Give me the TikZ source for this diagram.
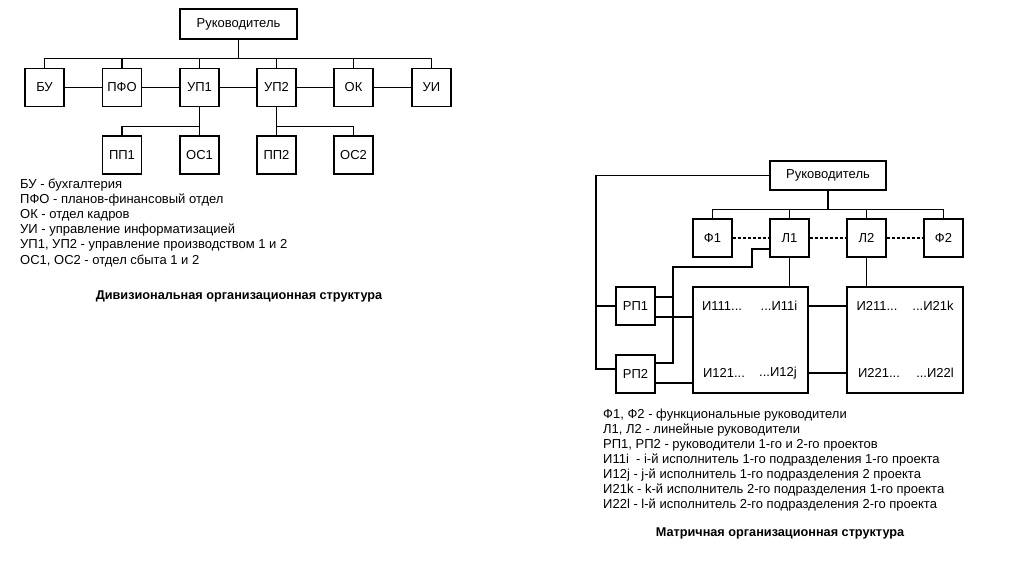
\documentclass[tikz,border=0pt]{standalone}
\usepackage{fontspec}
\setmainfont{Liberation Sans}
\usetikzlibrary{calc}
\tikzset{
  box/.style={draw, line width=1.3pt, minimum width=39pt, minimum height=38pt, inner sep=0pt, font=\fontsize{13}{15}\selectfont},
  wire/.style={line width=1.3pt},
  dwire/.style={line width=1.3pt, dash pattern=on 3pt off 2pt},
  legend/.style={anchor=west, inner sep=0pt, font=\fontsize{13}{15}\selectfont},
  ttl/.style={inner sep=0pt, font=\fontsize{12.7}{15}\selectfont\bfseries},
  itxt/.style={inner sep=0pt, font=\fontsize{13}{15}\selectfont}
}
\begin{document}
\begin{tikzpicture}[x=1pt,y=-1pt]
\path[use as bounding box, fill=white] (0,0) rectangle (1024,574);
% ---------- Divisional ----------
\node[box, minimum width=117pt, minimum height=30pt] (rk) at (238.5,24) {Руководитель};
\node[box] (bu)  at (44.5,87.5) {БУ};
\node[box] (pfo) at (122,87.5) {ПФО};
\node[box] (up1) at (199.5,87.5) {УП1};
\node[box] (up2) at (276.5,87.5) {УП2};
\node[box] (ok)  at (353.5,87.5) {ОК};
\node[box] (ui)  at (431.5,87.5) {УИ};
\node[box] (pp1) at (122,155) {ПП1};
\node[box] (os1) at (199.5,155) {ОС1};
\node[box] (pp2) at (276.5,155) {ПП2};
\node[box] (os2) at (353.5,155) {ОС2};
\foreach \c in {bu,pfo,up1,up2,ok,ui}{
  \draw[wire] (rk.south) -- ++(0,19) -| (\c.north);
}
\draw[wire] (bu.east) -- (pfo.west);
\draw[wire] (pfo.east) -- (up1.west);
\draw[wire] (up1.east) -- (up2.west);
\draw[wire] (up2.east) -- (ok.west);
\draw[wire] (ok.east) -- (ui.west);
\draw[wire] (up1.south) -- ++(0,19.5) -| (pp1.north);
\draw[wire] (up1.south) -- (os1.north);
\draw[wire] (up2.south) -- ++(0,19.5) -| (os2.north);
\draw[wire] (up2.south) -- (pp2.north);
\node[legend] (l1a) at (20,185) {БУ - бухгалтерия};
\node[legend] (l1b) at (20,200) {ПФО - планов-финансовый отдел};
\node[legend] (l1c) at (20,215) {ОК - отдел кадров};
\node[legend] (l1d) at (20,230) {УИ - управление информатизацией};
\node[legend] (l1e) at (20,245) {УП1, УП2 - управление производством 1 и 2};
\node[legend] (l1f) at (20,261) {ОС1, ОС2 - отдел сбыта 1 и 2};
\node[ttl] (t1) at (239,296) {Дивизиональная организационная структура};
% ---------- Matrix ----------
\node[box, minimum width=116pt, minimum height=29pt] (rk2) at (828,175.5) {Руководитель};
\node[box] (f1) at (712.5,238) {Ф1};
\node[box] (la) at (789.5,238) {Л1};
\node[box] (lb) at (866.5,238) {Л2};
\node[box] (f2) at (943.5,238) {Ф2};
\node[box] (rp1) at (635.5,306) {РП1};
\node[box] (rp2) at (635.5,374) {РП2};
\node[box, minimum width=115pt, minimum height=106pt] (ib1) at (750.5,340) {};
\node[box, minimum width=116pt, minimum height=106pt] (ib2) at (905,340) {};
\foreach \c in {f1,la,lb,f2}{
  \draw[wire] (rk2.south) -- ++(0,19) -| (\c.north);
}
\draw[dwire] (f1.east) -- (la.west);
\draw[dwire] (la.east) -- (lb.west);
\draw[dwire] (lb.east) -- (f2.west);
\draw[wire] (la.south) -- (la.south |- ib1.north);
\draw[wire] (lb.south) -- (lb.south |- ib2.north);
% head to project managers
\coordinate (hL) at (596,369);
\coordinate (p2L) at (616,369);
\draw[wire] (rk2.west) -| (hL) -- (p2L);
\draw[wire] (rp1.west) -- (rp1.west -| hL);
% L1 to project managers
\coordinate (jS) at (770,249);
\coordinate (jA) at (752,249);
\coordinate (jB) at (673,267);
\coordinate (jC) at (673,363);
\coordinate (p2R) at (655,363);
\coordinate (p1R) at (655,297);
\coordinate (jD) at (673,297);
\draw[wire] (jS) -- (jA) |- (jB) -- (jC) -- (p2R);
\draw[wire] (p1R) -- (jD);
% project managers to executors
\coordinate (p1E) at (655,317);
\coordinate (b1E) at (693,317);
\coordinate (p2E) at (655,383);
\coordinate (b2E) at (693,383);
\draw[wire] (p1E) -- (b1E);
\draw[wire] (p2E) -- (b2E);
\coordinate (cA1) at (808,306);
\coordinate (cA2) at (847,306);
\coordinate (cB1) at (808,373);
\coordinate (cB2) at (847,373);
\draw[wire] (cA1) -- (cA2);
\draw[wire] (cB1) -- (cB2);
\node[itxt] (e1) at (722,306) {И111...};
\node[itxt] (e2) at (779,306) {...И11i};
\node[itxt] (e3) at (724,373) {И121...};
\node[itxt] (e4) at (778,373) {...И12j};
\node[itxt] (e5) at (877,306) {И211...};
\node[itxt] (e6) at (933,306) {...И21k};
\node[itxt] (e7) at (879,373) {И221...};
\node[itxt] (e8) at (935,373) {...И22l};
\node[legend] (m1) at (603,415) {Ф1, Ф2 - функциональные руководители};
\node[legend] (m2) at (603,430) {Л1, Л2 - линейные руководители};
\node[legend] (m3) at (603,445) {РП1, РП2 - руководители 1-го и 2-го проектов};
\node[legend] (m4) at (603,460) {И11i\ \ - i-й исполнитель 1-го подразделения 1-го проекта};
\node[legend] (m5) at (603,475) {И12j - j-й исполнитель 1-го подразделения 2 проекта};
\node[legend] (m6) at (603,490) {И21k - k-й исполнитель 2-го подразделения 1-го проекта};
\node[legend] (m7) at (603,505) {И22l - l-й исполнитель 2-го подразделения 2-го проекта};
\node[ttl] (t2) at (780,533) {Матричная организационная структура};
\end{tikzpicture}
\end{document}
